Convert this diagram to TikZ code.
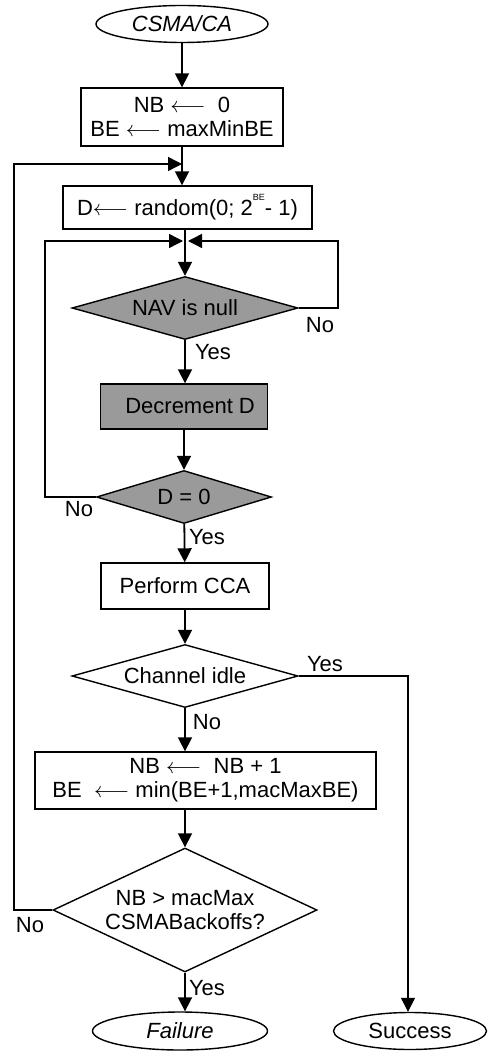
\documentclass[tikz,border=0pt]{standalone}
\usepackage{fontspec}
\setmainfont{Liberation Sans}
\usetikzlibrary{positioning,shapes.geometric,arrows.meta}
\definecolor{boxgray}{HTML}{9A9A9A}
\tikzset{%
  every box/.style={
    draw,
    rectangle,
    inner sep=0pt,
    align=center
  },
  every decision/.style={
    draw,
    diamond,
    inner sep=0pt,
    align=center
  },
}

\begin{document}
\begin{tikzpicture}[x=0.5pt,y=-0.5pt,>={Triangle[length=7pt,width=7pt]},font=\fontsize{11}{12}\selectfont,line width=0.7pt]
        \tikzstyle{box}=[every box]
        \tikzstyle{shaded}=[every box,fill=boxgray]
        \tikzstyle{decision}=[every decision]
        \tikzstyle{terminal}=[draw,ellipse,inner sep=0pt]
        \tikzstyle{tag}=[inner sep=0pt]
        \tikzstyle{flow}=[->,line width=0.9pt]

        \useasboundingbox (0,0) rectangle (487,1052);

        \node[terminal,minimum width=86pt,minimum height=18.5pt] (start) at (182,24) {\itshape CSMA/CA};
        \node[box,minimum width=101pt,minimum height=29pt] (init) at (182,117) {NB $\longleftarrow$\ \ 0\\BE $\longleftarrow$ maxMinBE};
        \node[box,minimum width=124.5pt,minimum height=21.5pt] (rand) at (187.5,207.5) {D$\longleftarrow$ random(0; 2\raisebox{1.3ex}{\fontsize{4.5}{5}\selectfont BE}- 1)};
        \node[decision,fill=boxgray,shape aspect=3.6,minimum width=113pt,minimum height=31.5pt] (nav) at (185,308) {NAV is null};
        \node[shaded,minimum width=83.5pt,minimum height=22.5pt] (dec) at (184,406.5) {\ \ Decrement D};
        \node[decision,fill=boxgray,shape aspect=3.3,minimum width=87.5pt,minimum height=26.5pt] (dzero) at (184,497) {D = 0};
        \node[box,minimum width=84pt,minimum height=23pt] (cca) at (185,586) {Perform CCA};
        \node[decision,shape aspect=3.6,minimum width=113pt,minimum height=31.5pt] (idle) at (185,676) {Channel idle};
        \node[box,minimum width=170.5pt,minimum height=28.5pt] (inc) at (205.5,780.5) {NB $\longleftarrow$\ \ NB + 1\\BE\ \ $\longleftarrow$ min(BE+1,macMaxBE)};
        \node[decision,shape aspect=2.1,minimum width=132pt,minimum height=62pt] (maxb) at (185,910) {NB > macMax\\CSMABackoffs?};
        \node[terminal,minimum width=87.5pt,minimum height=19pt] (failure) at (180,1031) {\itshape Failure};
        \node[terminal,minimum width=76.5pt,minimum height=18.5pt] (success) at (410,1031) {Success};

        % loop points
        \coordinate (retry) at (182,164);
        \coordinate (outer) at (14,164);
        \coordinate (merge) at (185,241);
        \coordinate (navback) at (338,241);
        \coordinate (dback) at (45,241);

        \draw[flow] (start) -- (init);
        \draw[flow] (init.south) -- (init.south |- rand.north);
        \draw (rand.south -| merge) -- (merge);
        \draw[flow] (merge) -- (nav);
        \draw[flow] (nav) -- (dec.north -| nav);
        \draw[flow] (dec) -- (dzero);
        \draw[flow] (dzero) -- (cca);
        \draw[flow] (cca) -- (idle);
        \draw[flow] (idle) -- (idle |- inc.north);
        \draw[flow] (inc.south -| maxb) -- (maxb);
        \draw[flow] (maxb.south) -- (maxb.south |- failure.north);

        \draw[->] (nav.east) -| (navback) -- ([xshift=1.5pt]merge);
        \draw[->] (dzero.west) -| (dback) -- ([xshift=-1pt]merge);
        \draw[->] (maxb.west) -| (outer) -- (retry);
        \draw[->] (idle.east) -| (success.north -| 408,0);

        \node[tag] (navno) at (320,325) {No};
        \node[tag] (navyes) at (213,352) {Yes};
        \node[tag] (dno) at (79,509) {No};
        \node[tag] (dyes) at (207,537) {Yes};
        \node[tag] (idleyes) at (325,664) {Yes};
        \node[tag] (idleno) at (207,722) {No};
        \node[tag] (maxno) at (30,925) {No};
        \node[tag] (maxyes) at (207,988) {Yes};
    \end{tikzpicture}
\end{document}
